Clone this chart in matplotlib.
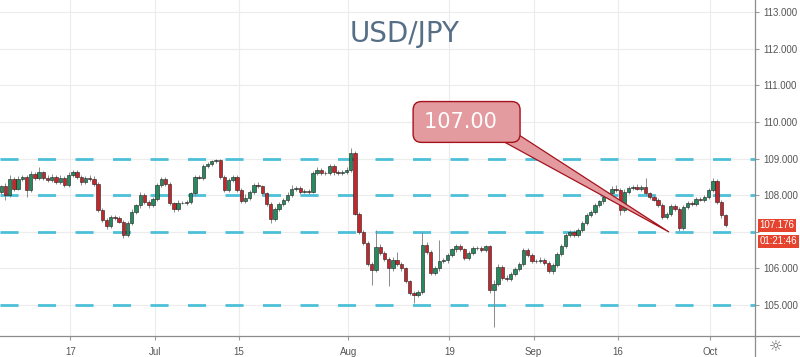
import numpy as np
import matplotlib.pyplot as plt
from matplotlib.transforms import blended_transform_factory
from matplotlib.lines import Line2D

# USD/JPY half-day candles
closes = [
    108.24, 108.00, 108.45, 108.18, 108.45, 108.50, 108.15, 108.58, 108.47, 108.62,
    108.48, 108.42, 108.50, 108.36, 108.48, 108.28, 108.55, 108.63, 108.50, 108.35,
    108.48, 108.45, 108.30, 107.60, 107.32, 107.15, 107.40, 107.38, 107.28, 106.90,
    107.25, 107.55, 107.72, 108.00, 107.82, 107.72, 107.90, 108.28, 108.45, 108.30,
    107.78, 107.62, 107.80, 107.80, 107.82, 108.05, 108.50, 108.48, 108.80, 108.86,
    108.93, 108.95, 108.50, 108.15, 108.42, 108.50, 108.15, 107.84, 107.93, 108.10,
    108.28, 108.24, 108.05, 107.76, 107.35, 107.62, 107.76, 107.87, 108.00, 108.17,
    108.20, 108.10, 108.12, 108.10, 108.60, 108.68, 108.60, 108.60, 108.80, 108.62,
    108.60, 108.62, 108.70, 109.15, 107.50, 107.00, 106.70, 106.12, 105.95, 106.58,
    106.42, 106.26, 106.00, 106.24, 106.12, 106.00, 105.65, 105.33, 105.28, 105.36,
    106.65, 106.45, 105.87, 106.00, 106.20, 106.22, 106.36, 106.52, 106.62, 106.52,
    106.28, 106.42, 106.56, 106.55, 106.50, 106.60, 105.40, 105.58, 106.05, 105.75,
    105.72, 105.85, 105.98, 106.12, 106.50, 106.38, 106.20, 106.20, 106.24, 106.15,
    105.92, 106.10, 106.40, 106.62, 106.92, 107.00, 106.92, 107.05, 107.25, 107.45,
    107.55, 107.72, 107.83, 107.95, 108.05, 108.18, 108.15, 107.60, 108.08, 108.20,
    108.22, 108.18, 108.22, 108.05, 107.95, 107.88, 107.74, 107.40, 107.48, 107.70,
    107.62, 107.10, 107.68, 107.78, 107.76, 107.90, 107.88, 107.95, 108.15, 108.38,
    107.82, 107.45, 107.176,
]
first_open = 108.10

upper_wick = [
    .05, .08, .10, .06, .08, .06, .05, .08, .06, .16,
    .05, .06, .08, .05, .06, .05, .07, .06, .05, .06,
    .05, .06, .08, .06, .05, .06, .05, .06, .05, .04,
    .05, .06, .05, .10, .05, .06, .05, .06, .06, .05,
    .05, .04, .06, .05, .06, .05, .06, .04, .06, .05,
    .04, .03, .05, .06, .05, .06, .05, .04, .10, .05,
    .06, .07, .05, .04, .05, .06, .05, .06, .08, .10,
    .06, .05, .06, .05, .05, .08, .06, .05, .05, .04,
    .06, .06, .08, .13, .05, .05, .06, .05, .06, .47,
    .10, .06, .05, .06, .20, .06, .05, .04, .05, .06,
    .35, .08, .06, .08, .58, .06, .06, .05, .06, .06,
    .05, .06, .05, .06, .06, .05, .05, .10, .06, .05,
    .06, .05, .06, .05, .06, .06, .05, .05, .06, .05,
    .06, .05, .06, .05, .05, .06, .05, .06, .05, .06,
    .05, .06, .05, .06, .05, .06, .10, .06, .08, .06,
    .06, .08, .06, .24, .05, .06, .05, .05, .06, .05,
    .06, .05, .05, .06, .05, .06, .05, .06, .05, .08,
    .06, .05, .04,
]
lower_wick = [
    .06, .13, .05, .06, .05, .06, .19, .05, .06, .05,
    .06, .05, .05, .06, .05, .06, .05, .06, .05, .06,
    .05, .06, .05, .06, .05, .06, .05, .06, .05, .06,
    .05, .06, .05, .06, .05, .06, .05, .06, .05, .06,
    .05, .07, .06, .05, .06, .05, .06, .05, .06, .05,
    .05, .06, .05, .06, .05, .06, .05, .05, .06, .05,
    .06, .05, .06, .05, .10, .06, .05, .06, .05, .06,
    .05, .06, .05, .06, .05, .06, .05, .06, .05, .06,
    .05, .06, .05, .06, .05, .06, .05, .06, .39, .05,
    .06, .05, .49, .06, .05, .06, .05, .06, .23, .06,
    .06, .05, .06, .05, .06, .05, .06, .05, .06, .05,
    .06, .05, .06, .05, .06, .05, .06, .99, .05, .06,
    .05, .06, .05, .06, .05, .06, .05, .06, .05, .06,
    .05, .06, .05, .06, .05, .06, .05, .06, .05, .06,
    .05, .06, .05, .06, .05, .06, .05, .14, .06, .05,
    .06, .05, .06, .05, .06, .05, .06, .05, .06, .05,
    .06, .07, .05, .06, .05, .06, .05, .06, .05, .06,
    .05, .06, .05,
]

tick_dates = ['2019-06-17', '2019-07-01', '2019-07-15', '2019-08-01',
              '2019-08-19', '2019-09-02', '2019-09-16', '2019-10-01']
tick_labels = ['17', 'Jul', '15', 'Aug', '19', 'Sep', '16', 'Oct']
levels = [105.0, 107.0, 108.0, 109.0]
note_price = 107.00
last_price = 107.176
countdown = '01:21:46'

# ---- build candles
c = np.array(closes)
o = np.concatenate([[first_open], c[:-1]])
hi = np.maximum(o, c) + np.array(upper_wick)
lo = np.minimum(o, c) - np.array(lower_wick)
x = np.arange(len(c))
up = c >= o

# two candles per trading day, Jun 17 sits at candle 16.4
per_day = 2
jun17 = 16.4
tick_pos = [jun17 + per_day * np.busday_count('2019-06-17', d) for d in tick_dates]

green = '#268a5e'
red = '#c3262b'
grid_c = '#ececec'
txt_c = '#555555'

fig = plt.figure(figsize=(8, 3.57), dpi=100)
ax = fig.add_axes([0, 21 / 357, 755 / 800, 336 / 357])
ax.set_xlim(-0.3, 179.0)
ax.set_ylim(104.155, 113.33)


def price_fmt(v, pos):
    # the 107 label sits under the last-price tags
    if abs(v - round(last_price)) < 1e-6:
        return ''
    return f'{v:.3f}'


ax.set_yticks(np.arange(105, 114))
ax.yaxis.tick_right()
ax.yaxis.set_major_formatter(plt.FuncFormatter(price_fmt))
ax.set_xticks(tick_pos)
ax.set_xticklabels(tick_labels)
ax.grid(True, color=grid_c, lw=0.8, zorder=0)
ax.set_axisbelow(True)
ax.tick_params(axis='both', colors='#9a9a9a', labelcolor=txt_c, labelsize=7, length=3)
ax.tick_params(axis='y', pad=3)
ax.tick_params(axis='x', pad=5)
for lab in ax.get_xticklabels() + ax.get_yticklabels():
    lab.set_family('Liberation Sans')
for s in ['top', 'left']:
    ax.spines[s].set_visible(False)
for s in ['right', 'bottom']:
    ax.spines[s].set_color('#8c8c8c')
    ax.spines[s].set_linewidth(0.9)

# support / resistance lines
for lv in levels:
    ax.axhline(lv, color='#4cc0d8', lw=2.0, dashes=(6.5, 7.0), zorder=2)

# candles
ax.vlines(x, lo, hi, color='#8a8a8a', lw=0.7, zorder=3)
ax.bar(x[up], c[up] - o[up], bottom=o[up], width=0.8, color=green,
       edgecolor='#1e1e1e', linewidth=0.4, zorder=4)
ax.bar(x[~up], o[~up] - c[~up], bottom=c[~up], width=0.8, color=red,
       edgecolor='#1e1e1e', linewidth=0.4, zorder=4)

# callout
ax.annotate(f'{note_price:.2f}  ', xy=(158.5, note_price), xycoords='data',
            xytext=(0.618, 0.637), textcoords='axes fraction',
            ha='center', va='center', fontsize=15, color='white', zorder=6,
            bbox=dict(boxstyle='round,pad=0.5,rounding_size=0.4',
                      fc='#e49ba0', ec='#a5121c', lw=1.0),
            arrowprops=dict(arrowstyle='wedge,tail_width=0.7,shrink_factor=0.5',
                            fc='#e49ba0', ec='#a5121c', lw=0.9,
                            shrinkA=0, shrinkB=0, patchA=None,
                            relpos=(0.88, 0.05)))

# title
ax.text(0.536, 0.9, 'USD/JPY', transform=ax.transAxes, ha='center', va='center',
        fontsize=20, color='#566e86', family='DejaVu Sans')

# last price tags
tr = blended_transform_factory(ax.transAxes, ax.transData)
ax.text(1.006, last_price, f'{last_price:.3f}', transform=tr, ha='left', va='center',
        fontsize=7, color='white', family='Liberation Sans', clip_on=False,
        bbox=dict(boxstyle='square,pad=0.15', fc='#e5432e', ec='none'))
ax.text(1.006, last_price - 0.43, countdown, transform=tr, ha='left', va='center',
        fontsize=7, color='white', family='Liberation Sans', clip_on=False,
        bbox=dict(boxstyle='square,pad=0.15', fc='#e5432e', ec='none'))

# frame pieces outside the plot
fig.add_artist(Line2D([755 / 800, 1], [21 / 357, 21 / 357], color='#8c8c8c', lw=0.9))
fig.add_artist(Line2D([755 / 800, 755 / 800], [0, 21 / 357], color='#8c8c8c', lw=0.9))
fig.text(776 / 800, 10 / 357, '\u263c', ha='center', va='center', fontsize=11,
         color='#666666')

fig.savefig('out.png', dpi=100, facecolor='white')
